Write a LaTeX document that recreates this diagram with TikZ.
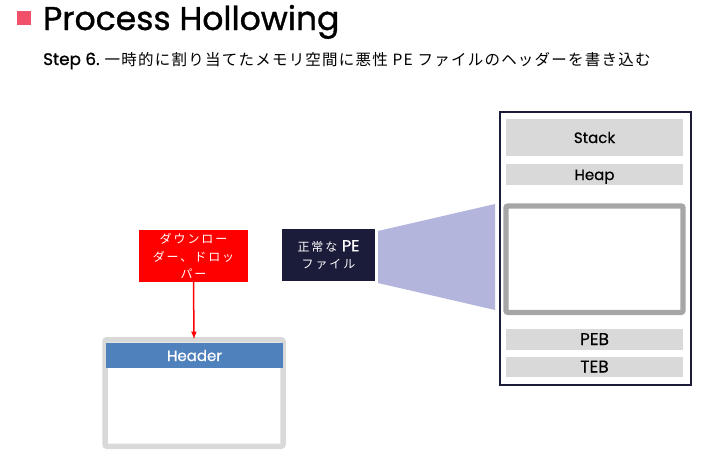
\documentclass[tikz,border=0pt]{standalone}
\usepackage{xcolor}
\usepackage{fontspec}
\setmainfont{Poppins}
\newfontfamily\medium[FakeBold=0.5]{Poppins}
\newfontfamily\heavy[FakeBold=1]{Poppins}
\newfontfamily\cjk[LetterSpace=8]{Noto Sans CJK JP}
\newfontfamily\cjkwide[LetterSpace=16]{Noto Sans CJK JP}
\definecolor{titlered}{HTML}{F0506A}
\definecolor{navybox}{HTML}{1B1B3A}
\definecolor{lilac}{HTML}{B3B5DC}
\definecolor{graybar}{HTML}{D9D9D9}
\definecolor{grayframe}{HTML}{A6A6A6}
\definecolor{headerblue}{HTML}{4F81BD}
\tikzset{
  segment/.style={fill=graybar,inner sep=0pt,text=black,text height=13,text depth=2,font=\medium\fontsize{15}{18}\selectfont},
  capsegment/.style={segment,font=\medium\fontsize{17}{18}\selectfont},
}

\begin{document}
\begin{tikzpicture}[x=1pt,y=1pt,yscale=-1,xscale=1]
\useasboundingbox (0,0) rectangle (726,461);
\fill [titlered] (17,11) rectangle (31,25) ;
%Text
\draw (43,30) node (title) [anchor=base west][inner sep=0pt] {\heavy\fontsize{33}{36}\selectfont Process Hollowing};
\draw (43,65) node (step) [anchor=base west][inner sep=0pt] {{\heavy\fontsize{16.8}{18}\selectfont Step 6.}\hspace{5pt}\cjk\fontsize{15.5}{18}\selectfont 一時的に割り当てたメモリ空間に悪性 PE ファイルのヘッダーを書き込む};
%Dropper
\draw (193.5,256) node (dropper) [fill=red,text=white,minimum width=109,minimum height=52,inner sep=0pt,align=center,font=\cjkwide\fontsize{12}{17.5}\selectfont] {ダウンロー\\ダー、ドロッ\\パー};
\draw (194,393) node (headerbox) [draw=graybar,line width=5.5,rounded corners=2,minimum width=178,minimum height=106.5,inner sep=0pt] {};
\draw (194.5,355.5) node (header) [fill=headerblue,text=white,minimum width=177,minimum height=25,inner sep=0pt,text height=13,text depth=2,font=\medium\fontsize{15}{18}\selectfont] {Header};
\draw [red,line width=1.5,-latex] (dropper.south) -- (194,339) ;
%PE file
\draw (328.5,255) node (pefile) [fill=navybox,text=white,minimum width=93,minimum height=52,inner sep=0pt,align=center,font=\cjkwide\fontsize{12}{17.5}\selectfont] {正常な {\heavy\fontsize{16}{17.5}\selectfont PE}\\ファイル};
\fill [lilac] (378,231) -- (495,204) -- (495,310) -- (378,283) -- cycle ;
%Memory
\draw (595.2,248.2) node (memory) [draw=navybox,line width=2,minimum width=191,minimum height=273,inner sep=0pt] {};
\draw (594.5,137.5) node (stack) [segment,minimum width=177,minimum height=37] {Stack};
\draw (594.5,174.5) node (heap) [segment,minimum width=177,minimum height=21] {Heap};
\draw (594.5,259.2) node (hollow) [draw=grayframe,line width=5.3,rounded corners=2,minimum width=177,minimum height=106.5,inner sep=0pt] {};
\draw (594.5,339.5) node (peb) [capsegment,minimum width=177,minimum height=21] {PEB};
\draw (594.5,367) node (teb) [capsegment,minimum width=177,minimum height=20] {TEB};
\end{tikzpicture}
\end{document}
